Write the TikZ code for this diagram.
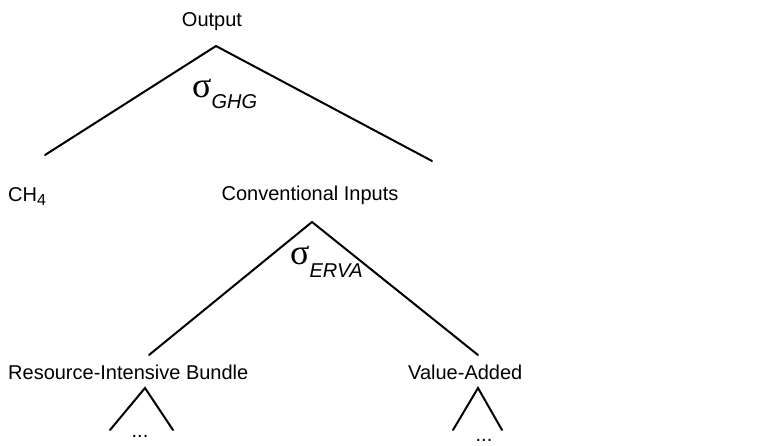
\documentclass[tikz,border=0pt]{standalone}
\usepackage{fontspec}
\setmainfont{Liberation Sans}
\newfontfamily\sigfont{Liberation Serif}
\newcommand{\elsig}{{\sigfont\fontsize{36}{36}\selectfont σ}}
\begin{document}
\begin{tikzpicture}[x=1pt,y=-1pt,
	every node/.style={font=\fontsize{20}{22}\selectfont,inner sep=0pt},
	branch/.style={line width=2pt,line cap=round},
	elast/.style={anchor=west}]
\useasboundingbox (0,0) rectangle (776,445);
% labels
\node (out) at (212,22) {Output};
\node[anchor=west] (ch4) at (8,197) {CH\raisebox{-4pt}{\fontsize{16}{16}\selectfont 4}};
\node (conv) at (310,195) {Conventional Inputs};
\node[anchor=west] (rib) at (8,372) {Resource-Intensive Bundle};
\node[anchor=west] (va) at (408,372) {Value-Added};
\node[anchor=base] (ribdots) at (140,437) {...};
\node[anchor=base] (vadots) at (484,441) {...};
\node[elast] (sghg) at (192,94) {\elsig\raisebox{-11pt}{\textit{GHG}}};
\node[elast] (serva) at (290,262) {\elsig\raisebox{-13pt}{\textit{ERVA}}};
% branch points
\coordinate (t0) at (216,46);
\coordinate (t0l) at (45,155);
\coordinate (t0r) at (432,161);
\coordinate (t1) at (312,222);
\coordinate (t1l) at (149,355);
\coordinate (t1r) at (478,355);
\coordinate (t2) at (145,388);
\coordinate (t2l) at (110,430);
\coordinate (t2r) at (173,430);
\coordinate (t3) at (478,388);
\coordinate (t3l) at (453,430);
\coordinate (t3r) at (502,430);
% branches
\draw[branch] (t0l) -- (t0) -- (t0r);
\draw[branch] (t1l) -- (t1) -- (t1r);
\draw[branch] (t2l) -- (t2) -- (t2r);
\draw[branch] (t3l) -- (t3) -- (t3r);
\end{tikzpicture}
\end{document}
